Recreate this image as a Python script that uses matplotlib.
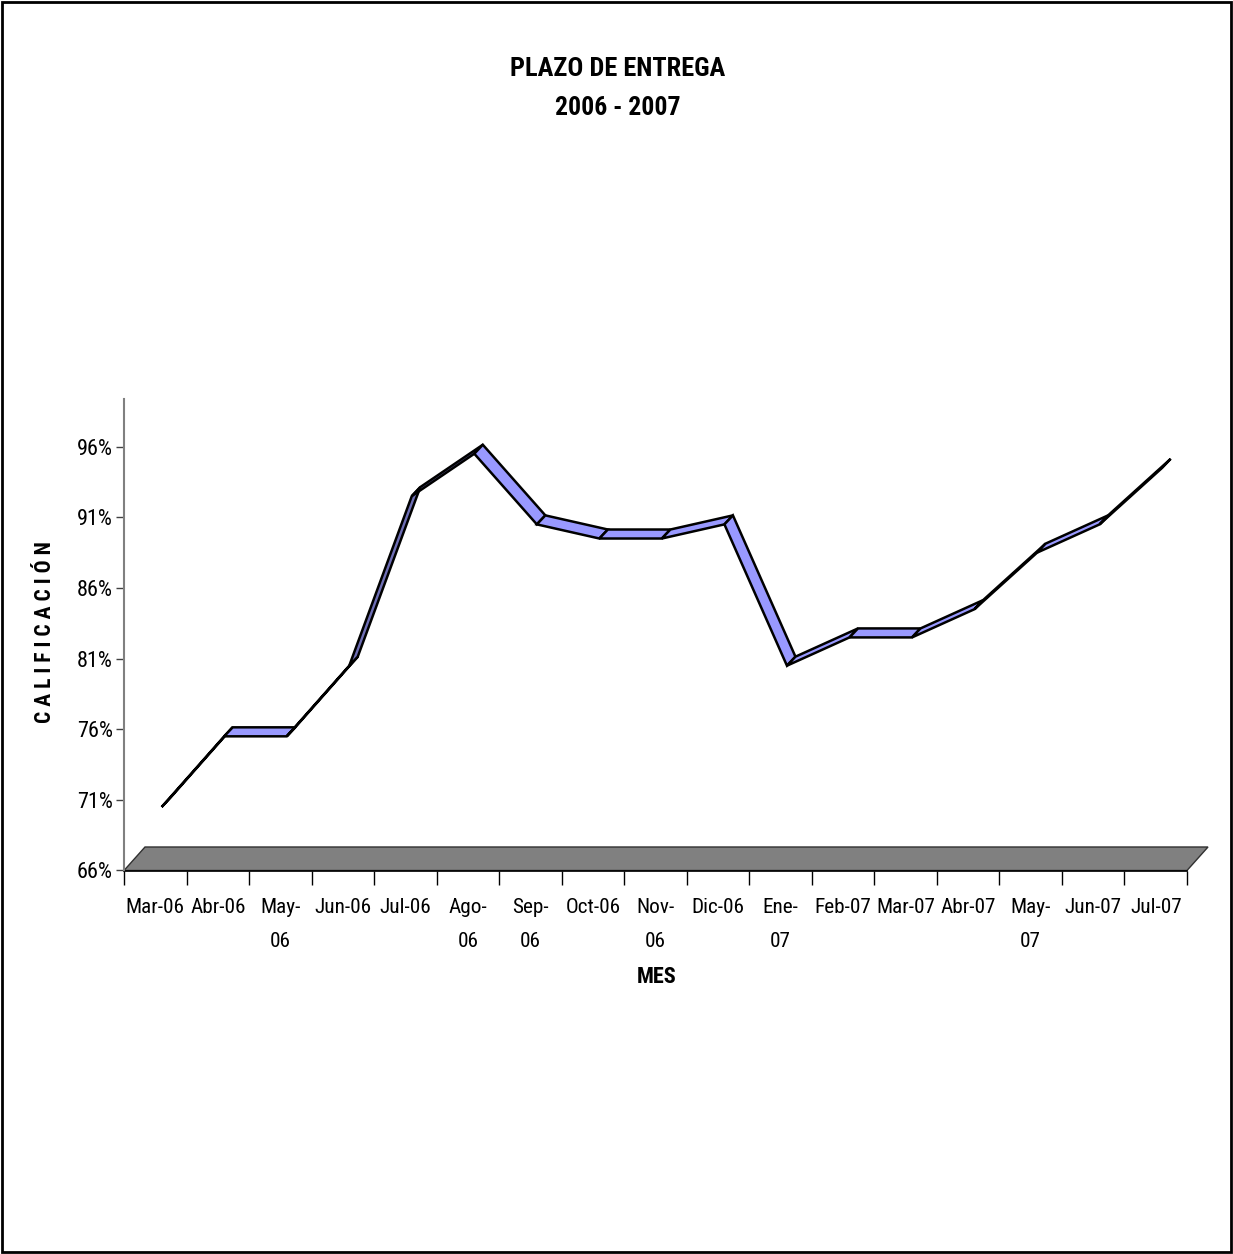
import matplotlib
matplotlib.use('Agg')
import matplotlib.pyplot as plt
from matplotlib.patches import Polygon, Rectangle
from matplotlib import font_manager

# ---- data ----
months = ['Mar-06', 'Abr-06', 'May-\n06', 'Jun-06', 'Jul-06', 'Ago-\n06', 'Sep-\n06',
          'Oct-06', 'Nov-\n06', 'Dic-06', 'Ene-\n07', 'Feb-07', 'Mar-07', 'Abr-07',
          'May-\n07', 'Jun-07', 'Jul-07']
values = [70, 75, 75, 80, 92, 95, 90, 89, 89, 90, 80, 82, 82, 84, 88, 90, 94]
yticks = [66, 71, 76, 81, 86, 91, 96]
ytick_labels = ['66%', '71%', '76%', '81%', '86%', '91%', '96%']
title1 = 'PLAZO DE ENTREGA'
title2 = '2006 - 2007'
xlabel = 'MES'
ylabel = 'C A L I F I C A C I Ó N'

# ---- fonts ----
names = {f.name for f in font_manager.fontManager.ttflist}
narrow_choice = None
for cand in ['Liberation Sans Narrow', 'Arial Narrow', 'Roboto Condensed', 'Open Sans Condensed']:
    if cand in names:
        narrow_choice = cand
        break
if narrow_choice:
    fam = [narrow_choice, 'DejaVu Sans']
    k = 1.0
else:
    fam = ['Liberation Sans', 'DejaVu Sans']
    k = 0.84
plt.rcParams['font.family'] = fam

W, H = 1233, 1254
fig = plt.figure(figsize=(W / 100, H / 100), dpi=100)
fig.patch.set_facecolor('white')

L, R, B, T = 124, 1187, 870.5, 399
ax = fig.add_axes([L / W, 1 - B / H, (R - L) / W, (B - T) / H])
ax.set_facecolor('none')
n = len(months)
ymin = 66
ypx = 14.13
ymax = ymin + (B - T) / ypx
ax.set_xlim(0, n)
ax.set_ylim(ymin, ymax)
xpx = (R - L) / n


def off(px, py):
    return px / xpx, py / ypx


# floor
fdx, fdy = off(21, 23.5)
floor = Polygon([(0, ymin), (n, ymin), (n + fdx, ymin + fdy), (fdx, ymin + fdy)],
                closed=True, facecolor='#808080', edgecolor='#303030', lw=1.0,
                clip_on=False, zorder=1)
ax.add_patch(floor)

# ribbon
fx, fy = off(6.4, 7.0)
bx, by = off(14.9, 16.0)
dpx, dpy = 8.5, 9.0
for i in range(n - 1):
    x0, x1 = i + 0.5, i + 1.5
    y0, y1 = values[i], values[i + 1]
    pts = [(x0 + fx, y0 + fy), (x1 + fx, y1 + fy), (x1 + bx, y1 + by), (x0 + bx, y0 + by)]
    sx = xpx
    sy = (y1 - y0) * ypx
    cross = sx * dpy - sy * dpx
    color = '#9999FF' if cross > 0 else '#6F6FB5'
    ax.add_patch(Polygon(pts, closed=True, facecolor=color, edgecolor='black',
                         lw=1.8, joinstyle='miter', clip_on=False, zorder=3 + i))

# axes styling
for s in ['top', 'right']:
    ax.spines[s].set_visible(False)
ax.spines['left'].set_color('#808080')
ax.spines['left'].set_linewidth(1.5)
ax.spines['bottom'].set_color('black')
ax.spines['bottom'].set_linewidth(1.2)
ax.spines['bottom'].set_zorder(2)

ax.set_xticks(range(n + 1))
ax.set_xticklabels([])
ax.set_xticks([i + 0.5 for i in range(n)], minor=True)
ax.set_xticklabels(months, minor=True, fontsize=15.3 * k, linespacing=1.95)
ax.tick_params(axis='x', which='major', length=10, width=1, color='black', direction='out')
ax.tick_params(axis='x', which='minor', length=0, pad=20)

ax.set_yticks(yticks)
ax.set_yticklabels(ytick_labels, fontsize=16 * k)
ax.tick_params(axis='y', which='major', length=6, width=1, color='#404040', pad=2)
ax.tick_params(axis='y', which='minor', length=0)

# titles and labels
fig.text(618 / W, 1 - 69 / H, title1, ha='center', va='center', fontsize=19 * k, fontweight='bold')
fig.text(618 / W, 1 - 108 / H, title2, ha='center', va='center', fontsize=18.5 * k, fontweight='bold')
fig.text(657 / W, 1 - 977 / H, xlabel, ha='center', va='center', fontsize=16 * k, fontweight='bold')
fig.text(45 / W, 1 - 632 / H, ylabel, ha='center', va='center', rotation=90,
         fontsize=15.5 * k, fontweight='bold')

# outer border
fig.patches.append(Rectangle((2 / W, 2 / H), (W - 4) / W, (H - 4) / H, transform=fig.transFigure,
                             fill=False, edgecolor='black', lw=2))

fig.savefig('out.png', dpi=100)
